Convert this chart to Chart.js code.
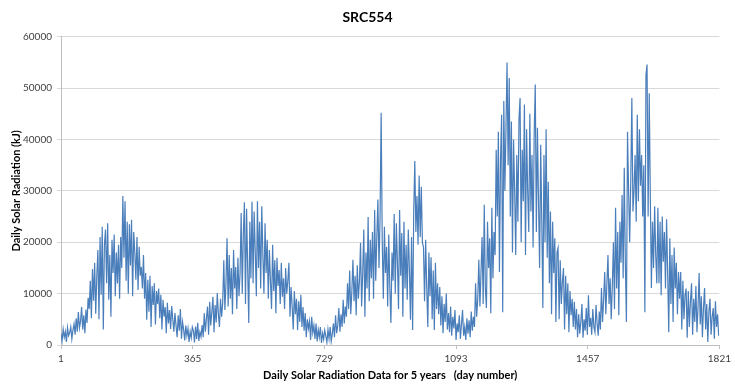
<!DOCTYPE html>
<html>
<head>
<meta charset="utf-8">
<script src="https://cdn.jsdelivr.net/npm/chart.js@4"></script>
<style>
  html, body { margin: 0; padding: 0; background: #ffffff; }
  #wrap { width: 735px; height: 385px; }
</style>
</head>
<body>
<div id="wrap"><canvas id="c" width="735" height="385"></canvas></div>
<script>
const chartTitle = "SRC554";
const xTitle = "Daily Solar Radiation Data for 5 years   (day number)";
const yTitle = "Daily Solar Radiation (kJ)";
const xTicks = [1, 365, 729, 1093, 1457, 1821];
const sampleStep = 3; // one reading every 3 days

// Year 1 (days 1 - 364)
const year1 = [2200,800,3100,1500,2600,600,3400,1800,2400,3500,1200,2900,4100,2000,
  5200,2600,6400,3300,4600,7400,3000,5800,2300,6900,
  4300,9200,7000,12500,5200,14800,8600,16000,6100,13500,
  18500,5000,21000,9800,23000,3000,19500,22500,12000,
  23700,8800,17500,5500,20500,14000,21500,9500,18000,12000,19500,9000,21000,15000,
  29000,17000,28000,12500,24000,
  10000,23500,15500,24400,9500,22000,18000,12700,21000,10700,19100,13500,15200,11000,17500,
  9000,14000,4900,12700,6500,13500,3500,11500,7800,12000,4000,10500,8000,11000,5200,9800,
  3000,8800,5500,7400,2300,8200,4200,6800,3100,7600,5000,2600,6200,
  3800,1500,5800,2800,7000,1200,4500,3000,900,3800,1800,3200,600,2600,1400,3500];
// Year 2 (days 367 - 730)
const year2 = [2800,500,3600,1200,4300,800,2500,1600,
  3900,1500,6200,2600,5200,7500,2000,8400,3800,6500,9400,2500,7800,
  4400,10100,6000,3500,9000,5500,8200,
  16500,6800,12000,20800,7500,17500,9000,15000,
  6000,18500,11000,15200,7000,17000,9500,14000,
  25700,10000,21500,27800,8000,26500,15000,4300,24000,13000,
  27900,12000,26000,18000,9500,28000,15000,24000,11000,27000,17500,10000,23700,14000,
  20500,9000,18500,12500,7000,19500,10500,16500,6200,17000,11500,14600,8000,16000,9400,13000,7000,15000,10000,12500,
  16000,5500,11300,7500,3000,10500,6000,9000,2900,8500,4500,9800,3500,7400,
  2800,6200,1500,5000,3200,4600,1000,5500,2400,3800,1200,4200,
  700,3000,1500,3500,400,2300,1100,2900];
// Year 3 (days 733 - 1096)
const year3 = [1800,500,3000,1200,3500,700,2200,
  4200,1500,5800,2300,3800,7200,2600,6000,3500,8800,4200,7500,
  5500,12000,7000,14500,6000,10500,16600,8500,13500,5800,15500,9000,12500,
  19900,7500,14000,22500,5500,18000,11000,24900,8500,20500,13000,22000,
  9000,26300,12500,21000,28300,15000,25000,45200,
  20000,9000,23000,14000,19100,7500,21500,11000,4300,18000,12500,
  25500,10000,23700,16000,7000,26300,13500,21800,5500,24000,11000,19500,8800,22500,15000,4900,21000,2900,
  26000,35800,22000,29000,19500,33000,21000,30800,20000,
  19000,8500,20500,11000,3500,18000,9500,17100,5000,14500,2900,16000,7000,12000,
  6000,11300,3800,9500,2300,8000,4500,10000,3000,6200,2500,7500,1800,5500,3200,6800,1000,4200];
// Year 4 (days 1099 - 1462)
const year4 = [2500,5800,1200,4000,6800,1800,3500,1000,5200,2200,4800,1500,6500,2800,5500,3500,
  12000,5500,9000,16600,7500,14000,
  21000,8000,27300,11000,7200,24000,15000,20800,6200,26700,13000,22000,
  17500,38000,25000,41500,14200,36000,
  44800,6400,47500,30000,
  42000,55000,35000,52000,
  25000,43500,18000,40000,30000,17500,37000,
  24000,44000,48100,20000,38000,28000,46800,17500,42000,30000,22000,45000,26000,37000,19000,41000,
  50700,22000,42300,28000,15000,39000,24000,7200,37000,20000,42000,17000,
  31800,12000,26000,6000,24000,14000,20800,4500,18000,
  18900,5000,16500,8000,12300,15000,3000,13500,6000,12000,2500,10500,5800,9000,3500,8400,
  3000,7000,1500,6000,2200,4500,8000,1400,5000,2800,7200,2000,9700,3500];
// Year 5 (days 1465 - 1819)
const year5 = [5300,2000,7000,3500,2500,7800,4200,1800,6500,3000,
  11100,4500,9000,14200,6000,12000,17500,8000,13000,5000,11500,
  20000,7000,26700,11000,22000,5800,24000,16000,
  29200,13000,34500,16000,4500,41500,30000,20000,
  32000,48100,26000,30000,37000,
  24000,44800,28000,42000,31000,37000,25000,
  35000,6400,52600,54600,25000,49000,
  29200,11100,24000,15000,27000,17500,12000,
  26700,12000,24000,9700,25000,16200,22000,11000,24500,
  14000,2500,20800,8000,17500,4500,19000,11000,16000,6000,14200,9000,
  14200,3000,12500,5000,9700,11000,1400,10500,3500,8500,12000,2000,9000,4500,11500,2500,7500,14000,
  4000,9500,1500,7200,11100,3000,8000,600,6500,9000,2000,5500,7200,1200,8500,3500,6000,1800];

const radiation = [].concat(year1, year2, year3, year4, year5);
const points = radiation.map((v, i) => ({ x: 1 + sampleStep * i, y: v }));

const FONT = "Lato, 'Open Sans', 'Liberation Sans', sans-serif";

new Chart(document.getElementById('c'), {
  type: 'line',
  data: {
    datasets: [{
      data: points,
      borderColor: '#4a7ebb',
      borderWidth: 1.2,
      pointRadius: 0,
      fill: false,
      tension: 0
    }]
  },
  options: {
    responsive: false,
    animation: false,
    events: [],
    layout: { padding: 0 },
    plugins: {
      legend: { display: false },
      tooltip: { enabled: false },
      title: {
        display: true,
        text: chartTitle,
        color: '#000000',
        font: { family: FONT, size: 14, weight: 'bold' },
        padding: { top: 9, bottom: 11 }
      }
    },
    scales: {
      x: {
        type: 'linear',
        min: 1,
        max: 1821,
        afterBuildTicks: (s) => { s.ticks = xTicks.map(v => ({ value: v })); },
        afterFit: (s) => { s.height = 40; },
        ticks: {
          autoSkip: false,
          maxRotation: 0,
          padding: 4,
          color: '#404040',
          font: { family: FONT, size: 10 },
          callback: (v) => String(v)
        },
        grid: {
          drawOnChartArea: false,
          drawTicks: true,
          tickLength: 4,
          color: '#bfbfbf'
        },
        border: { display: true, color: '#bfbfbf' },
        title: {
          display: true,
          text: xTitle,
          color: '#000000',
          font: { family: FONT, size: 11, weight: 'bold' },
          padding: { top: 2, bottom: 3 }
        }
      },
      y: {
        min: 0,
        max: 60000,
        afterFit: (s) => { s.width = 61; },
        ticks: {
          stepSize: 10000,
          padding: 5,
          color: '#404040',
          font: { family: FONT, size: 10 },
          callback: (v) => String(v)
        },
        grid: {
          color: '#d9d9d9',
          tickLength: 4,
          drawTicks: true
        },
        border: { display: true, color: '#bfbfbf' },
        title: {
          display: true,
          text: yTitle,
          color: '#000000',
          font: { family: FONT, size: 11, weight: 'bold' },
          padding: { top: 10, bottom: 0 }
        }
      },
      yRight: {
        position: 'right',
        min: 0,
        max: 60000,
        afterFit: (s) => { s.width = 13; },
        ticks: { display: false },
        grid: { display: false },
        border: { display: false }
      }
    }
  }
});
</script>
</body>
</html>
